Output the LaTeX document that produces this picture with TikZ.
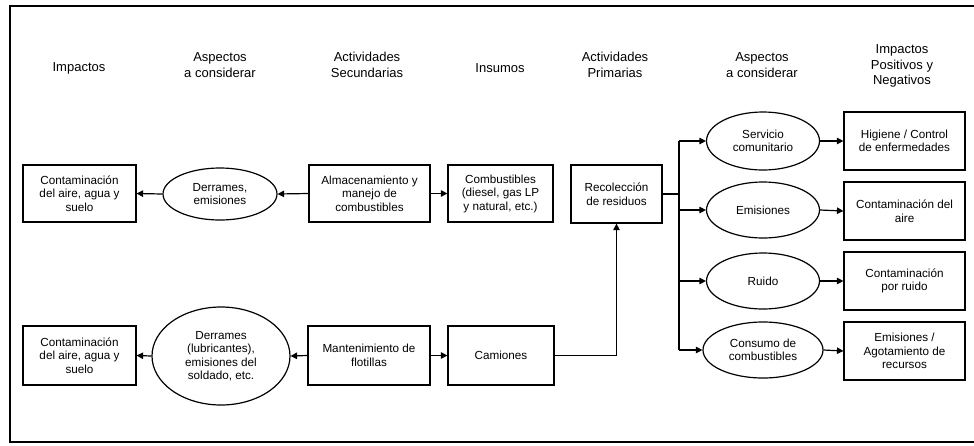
\documentclass[tikz,border=0pt]{standalone}
\usepackage{fontspec}
\setmainfont{Liberation Sans}
\usetikzlibrary{arrows.meta,shapes.geometric}
\begin{document}
\begin{tikzpicture}[x=1pt,y=-1pt,
  box/.style={draw,line width=1.2pt,align=center,inner sep=0pt,font=\fontsize{11.7}{13.5}\selectfont},
  ell/.style={draw,ellipse,line width=1.2pt,align=center,inner sep=0pt,font=\fontsize{11.7}{13.5}\selectfont},
  head/.style={align=center,font=\fontsize{13}{15.5}\selectfont},
  arr/.style={line width=1.2pt,-{Triangle[length=6.5pt,width=6.5pt]}},
  ln/.style={line width=1.2pt}]
\useasboundingbox (0,0) rectangle (974,445);
\draw[line width=2.8pt] (975,6) -- (10,6) -- (10,442) -- (975,442);
% headers
\node[head] (h1) at (79,68) {Impactos};
\node[head] (h2) at (220,65) {Aspectos\\a considerar};
\node[head] (h3) at (367,65) {Actividades\\Secundarias};
\node[head] (h4) at (500,68) {Insumos};
\node[head] (h5) at (615,65) {Actividades\\Primarias};
\node[head] (h6) at (762,65) {Aspectos\\a considerar};
\node[head] (h7) at (902,66) {Impactos\\Positivos y\\Negativos};
% top row
\node[box,minimum width=113,minimum height=57] (imp1) at (79.5,193.5) {Contaminación\\del aire, agua y\\suelo};
\node[ell,minimum width=114,minimum height=52] (der1) at (220,194) {Derrames,\\emisiones};
\node[box,minimum width=121,minimum height=57] (alm) at (369.5,193.5) {Almacenamiento y\\manejo de\\combustibles};
\node[box,minimum width=105,minimum height=57] (comb) at (500.5,193.5) {Combustibles\\(diesel, gas LP\\y natural, etc.)};
\node[box,minimum width=91,minimum height=58] (rec) at (616.5,194) {Recolección\\de residuos};
% bottom row
\node[box,minimum width=113,minimum height=59] (imp2) at (79.5,355.5) {Contaminación\\del aire, agua y\\suelo};
\node[ell,minimum width=138,minimum height=98] (der2) at (221,356) {Derrames\\(lubricantes),\\emisiones del\\soldado, etc.};
\node[box,minimum width=122,minimum height=59] (mant) at (369,355.5) {Mantenimiento de\\flotillas};
\node[box,minimum width=106,minimum height=59] (cam) at (501,355.5) {Camiones};
% right part
\node[ell,minimum width=113,minimum height=58] (serv) at (763,141) {Servicio\\comunitario};
\node[ell,minimum width=113,minimum height=56] (emi) at (763,210) {Emisiones};
\node[ell,minimum width=113,minimum height=56] (ruido) at (763,281) {Ruido};
\node[ell,minimum width=120,minimum height=56] (cons) at (763,350) {Consumo de\\combustibles};
\node[box,minimum width=121,minimum height=58] (hig) at (904.5,141) {Higiene / Control\\de enfermedades};
\node[box,minimum width=121,minimum height=58] (caire) at (904.5,211) {Contaminación del\\aire};
\node[box,minimum width=121,minimum height=58] (cruido) at (904.5,281) {Contaminación\\por ruido};
\node[box,minimum width=121,minimum height=58] (agot) at (904.5,351) {Emisiones /\\Agotamiento de\\recursos};
% connectors
\draw[arr] (alm.west) -- (der1.east);
\draw[arr] (der1.west) -- (imp1.east);
\draw[arr] (alm.east) -- (comb.west);
\draw[arr] (mant.west) -- (der2.east);
\draw[arr] (der2.west) -- (imp2.east);
\draw[arr] (mant.east) -- (cam.west);
\draw[arr] (cam.east) -| (rec.south);
\coordinate (tj) at (679,194);
\coordinate (tt) at (679,141);
\coordinate (tb) at (679,350);
\draw[ln] (rec.east) -- (tj);
\draw[ln] (tt) -- (tb);
\draw[arr] (tt) -- (serv.west);
\draw[arr] (emi.west -| tj) -- (emi.west);
\draw[arr] (ruido.west -| tj) -- (ruido.west);
\draw[arr] (tb) -- (cons.west);
\draw[arr] (serv.east) -- (hig.west);
\draw[arr] (emi.east) -- (caire.west);
\draw[arr] (ruido.east) -- (cruido.west);
\draw[arr] (cons.east) -- (agot.west);
\end{tikzpicture}
\end{document}
